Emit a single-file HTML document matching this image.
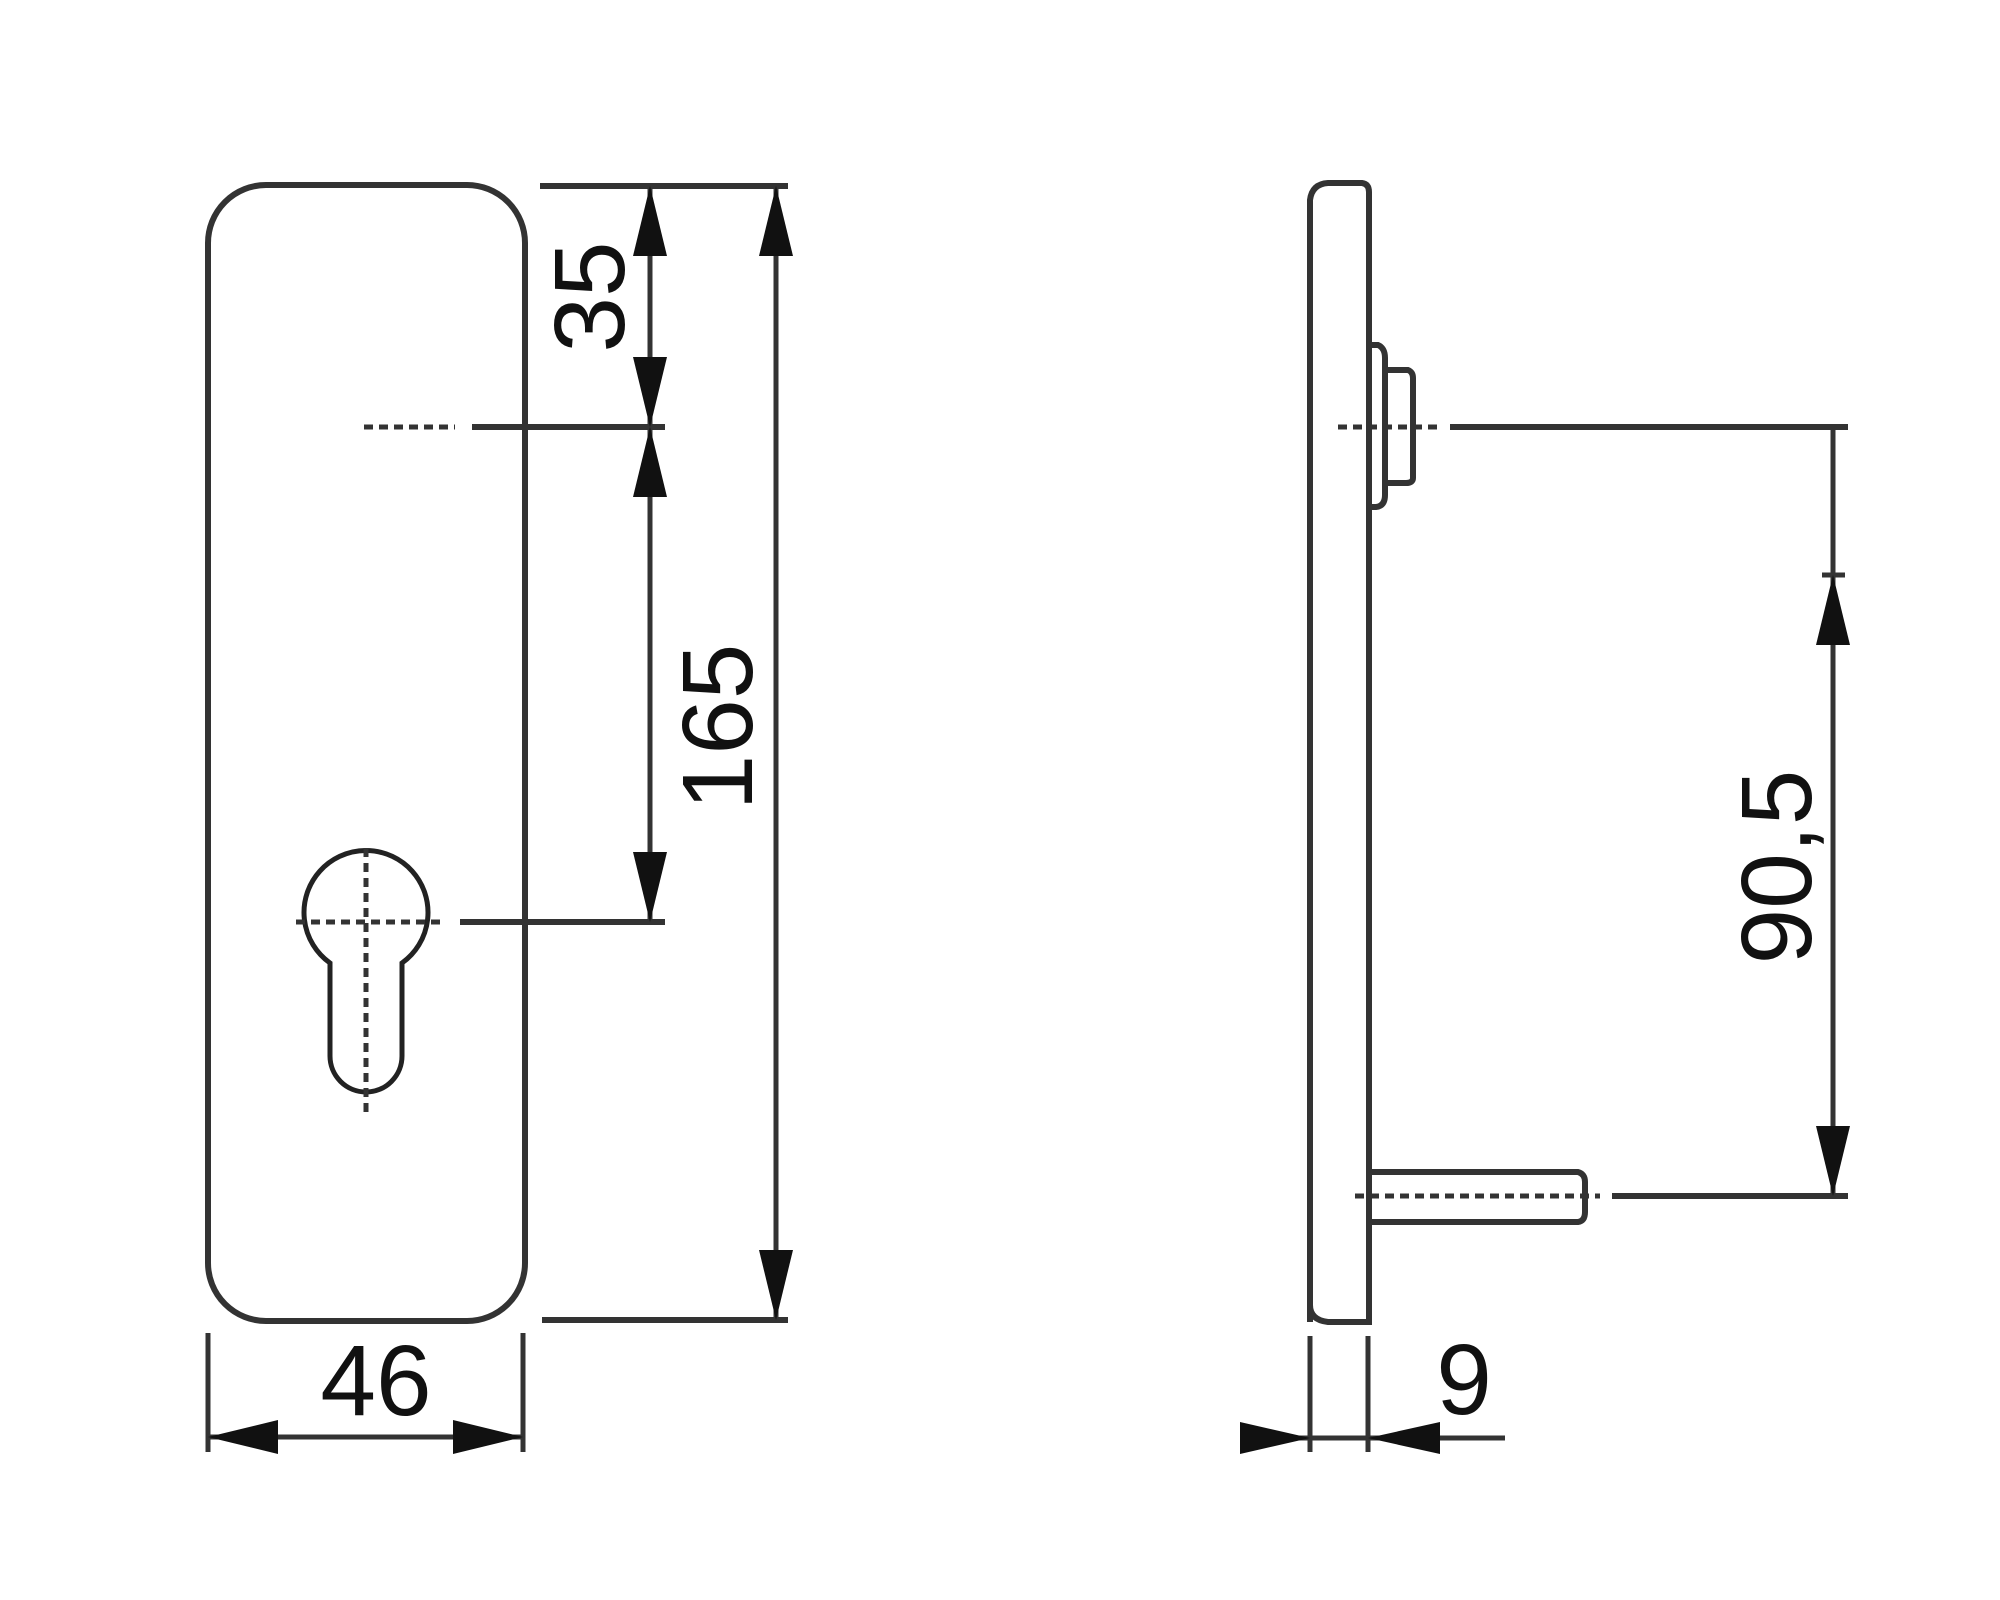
<!DOCTYPE html>
<html><head><meta charset="utf-8"><style>html,body{margin:0;padding:0;background:#fff}svg{display:block}</style></head>
<body>
<svg width="2000" height="1600" viewBox="0 0 2000 1600" xmlns="http://www.w3.org/2000/svg">
<defs>
<marker id="a" viewBox="0 0 70 34" refX="70" refY="17" markerWidth="70" markerHeight="34" markerUnits="userSpaceOnUse" orient="auto-start-reverse"><path d="M70 17 L0 0 L0 34 Z" fill="#111"/></marker>
</defs>
<g stroke="#333" fill="none" stroke-width="5">
<rect x="208" y="185" width="317" height="1136" rx="58" ry="58" stroke-width="6"/>
<path d="M330 963 A62 62 0 1 1 402 963 L402 1056 A36 36 0 0 1 330 1056 Z" stroke="#222"/>
<g stroke-dasharray="9 6" stroke="#333" stroke-width="5">
<line x1="366" y1="848" x2="366" y2="1112"/>
<line x1="296" y1="922" x2="440" y2="922"/>
<line x1="364" y1="427" x2="455" y2="427"/>
</g>
<line x1="460" y1="922" x2="665" y2="922" stroke-width="6"/>
<line x1="472" y1="427" x2="665" y2="427" stroke-width="6"/>
<line x1="540" y1="186" x2="788" y2="186" stroke-width="6"/>
<line x1="542" y1="1320" x2="788" y2="1320" stroke-width="6"/>
<line x1="650" y1="186" x2="650" y2="427" marker-start="url(#a)" marker-end="url(#a)"/>
<line x1="650" y1="427" x2="650" y2="922" marker-start="url(#a)" marker-end="url(#a)"/>
<line x1="776" y1="186" x2="776" y2="1320" marker-start="url(#a)" marker-end="url(#a)"/>
<line x1="208" y1="1333" x2="208" y2="1452"/>
<line x1="523" y1="1333" x2="523" y2="1452"/>
<line x1="208" y1="1437" x2="523" y2="1437" marker-start="url(#a)" marker-end="url(#a)"/>
<path d="M1310 1322 L1310 200 Q1312 184 1328 183 L1362 183 Q1369 184 1369 192 L1369 1322 L1328 1322 Q1310 1320 1310 1305" stroke-width="6"/>
<path d="M1370 345 L1378 345 Q1385 348 1385 358 L1385 495 Q1385 506 1376 507 L1370 507" stroke-width="6"/>
<path d="M1385 370 L1408 370 Q1413 372 1413 378 L1413 478 Q1413 483 1406 483 L1385 483" stroke-width="6"/>
<path d="M1370 1172 L1578 1172 Q1585 1174 1585 1182 L1585 1212 Q1585 1221 1578 1222 L1370 1222" stroke-width="6"/>
<g stroke-dasharray="9 6" stroke-width="5">
<line x1="1338" y1="427" x2="1440" y2="427"/>
<line x1="1355" y1="1196" x2="1600" y2="1196"/>
</g>
<line x1="1450" y1="427" x2="1848" y2="427" stroke-width="6"/>
<line x1="1612" y1="1196" x2="1848" y2="1196" stroke-width="6"/>
<line x1="1833" y1="427" x2="1833" y2="1196"/>
<line x1="1822" y1="575" x2="1845" y2="575" stroke-width="5"/>
<line x1="1833" y1="575" x2="1833" y2="1196" marker-start="url(#a)" marker-end="url(#a)"/>
<line x1="1310" y1="1336" x2="1310" y2="1452"/>
<line x1="1368" y1="1336" x2="1368" y2="1452"/>
<line x1="1240" y1="1438" x2="1505" y2="1438"/>
<path d="M1310 1438 L1240 1422 L1240 1454 Z" fill="#111" stroke="none"/>
<path d="M1368 1438 L1440 1422 L1440 1454 Z" fill="#111" stroke="none"/>
</g>
<g font-family="Liberation Sans, sans-serif" font-size="100" fill="#111">
<text x="376" y="1415" text-anchor="middle">46</text>
<text x="1464" y="1414" text-anchor="middle">9</text>
<text transform="translate(624,297) rotate(-90)" text-anchor="middle">35</text>
<text transform="translate(752,727) rotate(-90)" text-anchor="middle">165</text>
<text transform="translate(1811,867) rotate(-90)" text-anchor="middle">90,5</text>
</g>
</svg>
</body></html>
